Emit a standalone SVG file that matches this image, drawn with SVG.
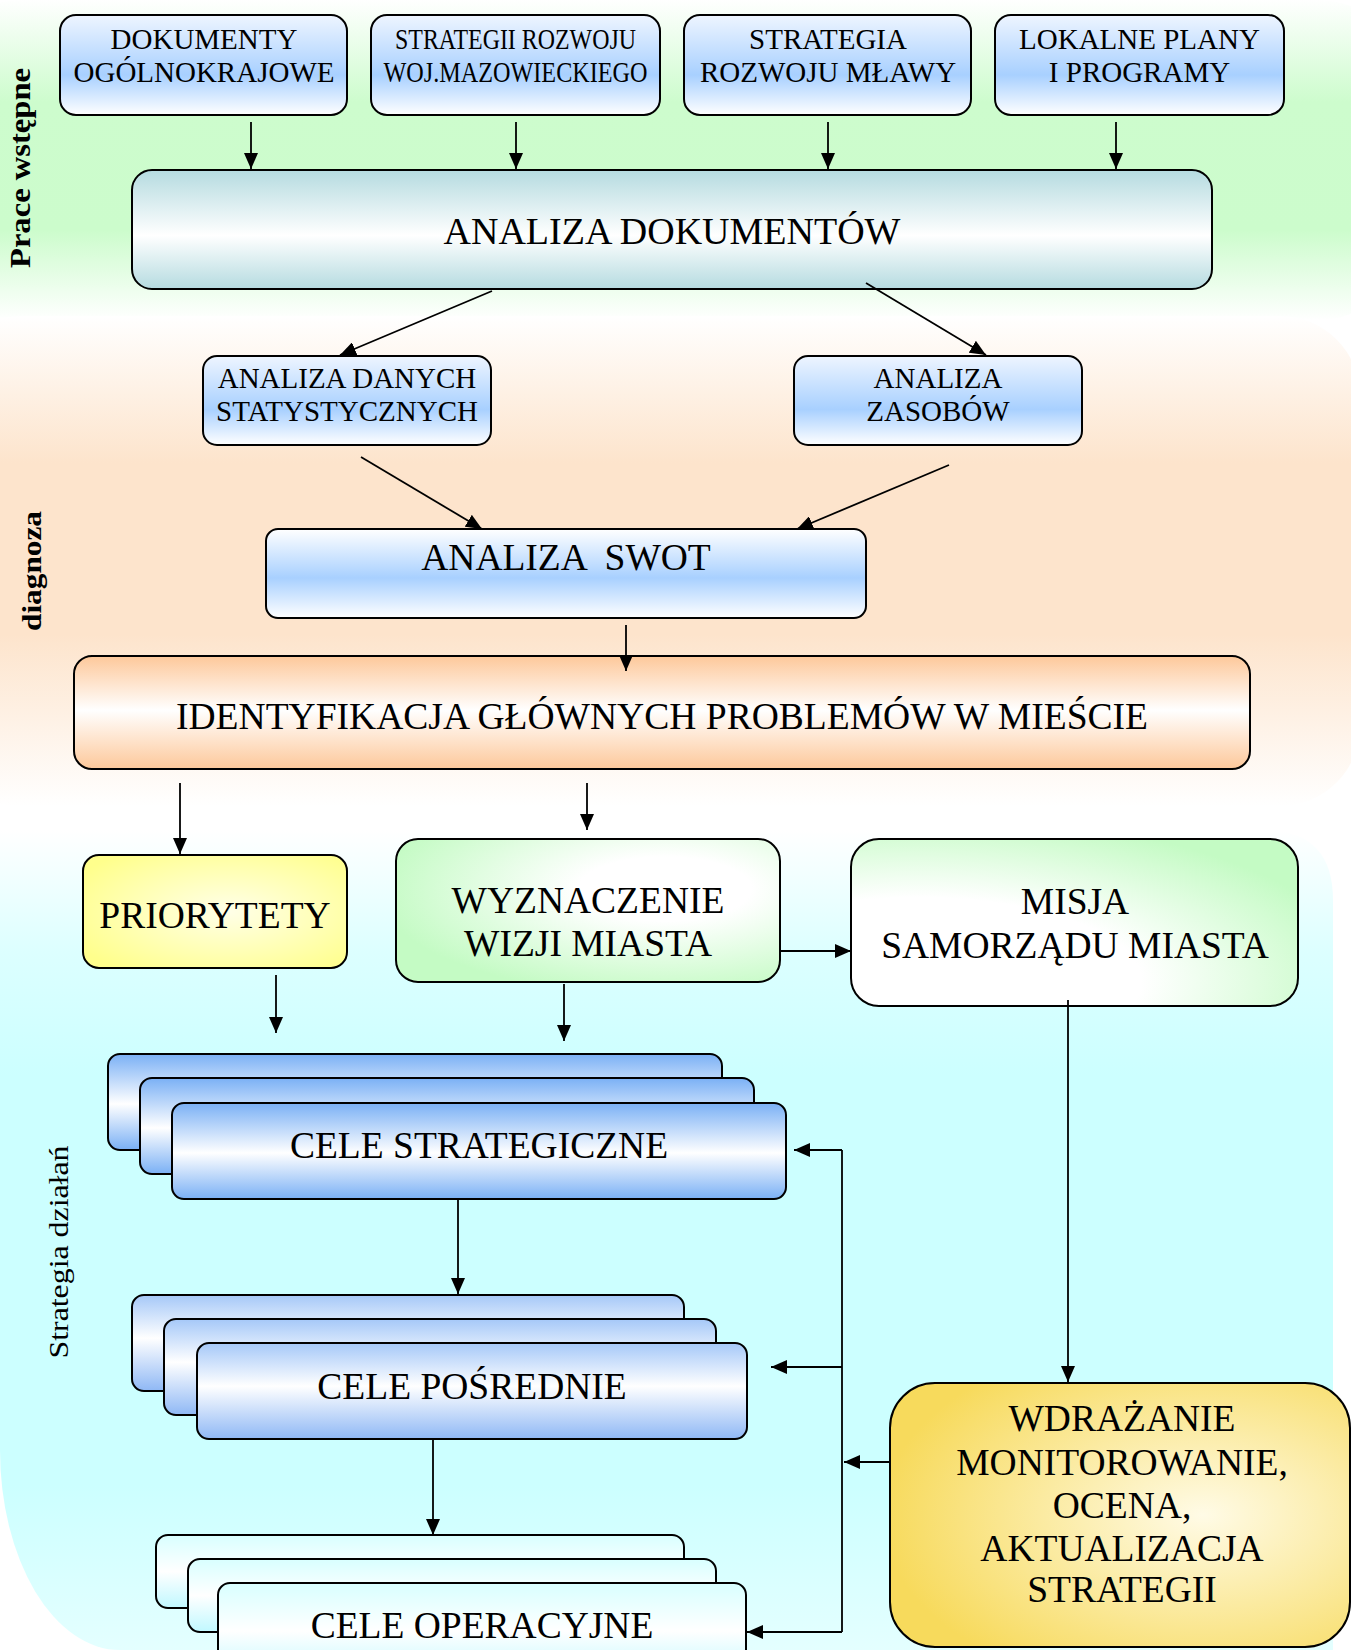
<svg xmlns="http://www.w3.org/2000/svg" width="1351" height="1650" viewBox="0 0 1351 1650">
<style>
.bx{stroke:#000;stroke-width:2}
.t{font-family:"Liberation Serif","Times New Roman",serif;fill:#000;text-anchor:middle}
.s29{font-size:29px}
.s37{font-size:37.5px}
.side{font-weight:bold}
.cn{stroke:#000;stroke-width:1.8;fill:none}
.ar{marker-end:url(#ah)}
</style>
<defs>
<marker id="ah" markerUnits="userSpaceOnUse" markerWidth="16" markerHeight="14" refX="16" refY="7" orient="auto"><path d="M0,0 L16,7 L0,14 Z" fill="#000"/></marker>
<linearGradient id="bgG" x1="0" y1="0" x2="0" y2="1"><stop offset="0" stop-color="#ffffff"/><stop offset="0.32" stop-color="#cdfccd"/><stop offset="0.72" stop-color="#ccfccc"/><stop offset="1" stop-color="#ffffff"/></linearGradient>
<linearGradient id="bgO" x1="0" y1="0" x2="0" y2="1"><stop offset="0" stop-color="#ffffff"/><stop offset="0.3" stop-color="#fde4cc"/><stop offset="0.65" stop-color="#fde4cc"/><stop offset="1" stop-color="#ffffff"/></linearGradient>
<linearGradient id="bgC" x1="0" y1="0" x2="0" y2="1"><stop offset="0" stop-color="#ffffff"/><stop offset="0.15" stop-color="#dcffff"/><stop offset="0.3" stop-color="#ccffff"/><stop offset="0.8" stop-color="#ccffff"/><stop offset="1" stop-color="#e4ffff"/></linearGradient>
<linearGradient id="gTop" x1="0" y1="0" x2="0" y2="1"><stop offset="0" stop-color="#eef5ff"/><stop offset="0.6" stop-color="#a8d0ff"/><stop offset="1" stop-color="#ffffff"/></linearGradient>
<linearGradient id="gDoc" x1="0" y1="0" x2="0" y2="1"><stop offset="0" stop-color="#b5dbe0"/><stop offset="0.55" stop-color="#ffffff"/><stop offset="1" stop-color="#b5dbe0"/></linearGradient>
<linearGradient id="gSwot" x1="0" y1="0" x2="0" y2="1"><stop offset="0" stop-color="#ffffff"/><stop offset="0.55" stop-color="#a8d0ff"/><stop offset="1" stop-color="#ffffff"/></linearGradient>
<linearGradient id="gIdent" x1="0" y1="0" x2="0" y2="1"><stop offset="0" stop-color="#fdc89a"/><stop offset="0.48" stop-color="#ffffff"/><stop offset="1" stop-color="#fdc89a"/></linearGradient>
<radialGradient id="gPrio" cx="0.55" cy="0.5" r="0.65"><stop offset="0" stop-color="#ffffe8"/><stop offset="1" stop-color="#ffff8c"/></radialGradient>
<radialGradient id="gWiz" cx="0.7" cy="0.35" r="0.75"><stop offset="0" stop-color="#ffffff"/><stop offset="0.3" stop-color="#ffffff"/><stop offset="1" stop-color="#c4fbc4"/></radialGradient>
<radialGradient id="gMis" cx="0.15" cy="0.85" r="1.0"><stop offset="0" stop-color="#ffffff"/><stop offset="0.5" stop-color="#ffffff"/><stop offset="1" stop-color="#c4fbc4"/></radialGradient>
<linearGradient id="gStr" x1="0" y1="0" x2="0" y2="1"><stop offset="0" stop-color="#7ab0f5"/><stop offset="0.52" stop-color="#ffffff"/><stop offset="1" stop-color="#7ab0f5"/></linearGradient>
<linearGradient id="gPos" x1="0" y1="0" x2="0" y2="1"><stop offset="0" stop-color="#a5c8f8"/><stop offset="0.45" stop-color="#ffffff"/><stop offset="1" stop-color="#8fb8f5"/></linearGradient>
<linearGradient id="gOp" x1="0" y1="0" x2="0" y2="1"><stop offset="0" stop-color="#d8ffff"/><stop offset="0.5" stop-color="#ffffff"/><stop offset="1" stop-color="#c0f8ff"/></linearGradient>
<radialGradient id="gWdr" cx="0.68" cy="0.5" r="0.7"><stop offset="0" stop-color="#fffbe6"/><stop offset="1" stop-color="#f7da5c"/></radialGradient>
</defs>

<g id="background">
<rect x="-60" y="0" width="1460" height="320" rx="80" fill="url(#bgG)"/>
<rect x="-60" y="316" width="1420" height="490" rx="80" fill="url(#bgO)"/>
<path d="M0,830 L1263,830 Q1333,830 1333,900 L1333,1650 L120,1650 A120 200 0 0 1 0,1450 Z" fill="url(#bgC)"/>
</g>

<g id="labels">
<text class="t side" style="font-size:29px" transform="translate(30,168) rotate(-90)" textLength="200" lengthAdjust="spacingAndGlyphs">Prace wstępne</text>
<text class="t side" style="font-size:28px" transform="translate(41,571) rotate(-90)" textLength="120" lengthAdjust="spacingAndGlyphs">diagnoza</text>
<text class="t" style="font-size:27px" transform="translate(68,1252) rotate(-90)" textLength="213" lengthAdjust="spacingAndGlyphs">Strategia działań</text>
</g>

<g id="n-dokumenty">
<rect class="bx" x="60" y="15" width="287" height="100" rx="16" fill="url(#gTop)"/>
<text class="t s29" x="204" y="48.5">DOKUMENTY</text>
<text class="t s29" x="204" y="82">OGÓLNOKRAJOWE</text>
</g>
<g id="n-strategii">
<rect class="bx" x="371" y="15" width="289" height="100" rx="16" fill="url(#gTop)"/>
<text class="t s29" x="515.5" y="48.5" textLength="241" lengthAdjust="spacingAndGlyphs">STRATEGII ROZWOJU</text>
<text class="t s29" x="515.5" y="82" textLength="264" lengthAdjust="spacingAndGlyphs">WOJ.MAZOWIECKIEGO</text>
</g>
<g id="n-strategia-mlawy">
<rect class="bx" x="684" y="15" width="287" height="100" rx="16" fill="url(#gTop)"/>
<text class="t s29" x="828" y="48.5">STRATEGIA</text>
<text class="t s29" x="828" y="82">ROZWOJU MŁAWY</text>
</g>
<g id="n-lokalne">
<rect class="bx" x="995" y="15" width="289" height="100" rx="16" fill="url(#gTop)"/>
<text class="t s29" x="1139.5" y="48.5">LOKALNE PLANY</text>
<text class="t s29" x="1139.5" y="82">I PROGRAMY</text>
</g>
<g id="n-analiza-dok">
<rect class="bx" x="132" y="170" width="1080" height="119" rx="20" fill="url(#gDoc)"/>
<text class="t" style="font-size:38px" x="672" y="244">ANALIZA DOKUMENTÓW</text>
</g>
<g id="n-analiza-danych">
<rect class="bx" x="203" y="356" width="288" height="89" rx="14" fill="url(#gTop)"/>
<text class="t s29" x="347" y="388">ANALIZA DANYCH</text>
<text class="t s29" x="347" y="421">STATYSTYCZNYCH</text>
</g>
<g id="n-analiza-zasobow">
<rect class="bx" x="794" y="356" width="288" height="89" rx="14" fill="url(#gTop)"/>
<text class="t s29" x="938" y="388">ANALIZA</text>
<text class="t s29" x="938" y="421">ZASOBÓW</text>
</g>
<g id="n-swot">
<rect class="bx" x="266" y="529" width="600" height="89" rx="12" fill="url(#gSwot)"/>
<text class="t s37" x="566" y="570" xml:space="preserve">ANALIZA  SWOT</text>
</g>
<g id="n-identyfikacja">
<rect class="bx" x="74" y="656" width="1176" height="113" rx="18" fill="url(#gIdent)"/>
<text class="t s37" x="662" y="729" textLength="972" lengthAdjust="spacingAndGlyphs">IDENTYFIKACJA GŁÓWNYCH PROBLEMÓW W MIEŚCIE</text>
</g>
<g id="n-priorytety">
<rect class="bx" x="83" y="855" width="264" height="113" rx="16" fill="url(#gPrio)"/>
<text class="t s37" x="215" y="928">PRIORYTETY</text>
</g>
<g id="n-wizja">
<rect class="bx" x="396" y="839" width="384" height="143" rx="22" fill="url(#gWiz)"/>
<text class="t s37" x="588" y="913">WYZNACZENIE</text>
<text class="t s37" x="588" y="956">WIZJI MIASTA</text>
</g>
<g id="n-misja">
<rect class="bx" x="851" y="839" width="447" height="167" rx="28" fill="url(#gMis)"/>
<text class="t s37" x="1075" y="914">MISJA</text>
<text class="t s37" x="1075" y="958">SAMORZĄDU MIASTA</text>
</g>
<g id="n-cele-strategiczne">
<rect class="bx" x="108" y="1054" width="614" height="96" rx="12" fill="url(#gStr)"/>
<rect class="bx" x="140" y="1078" width="614" height="96" rx="12" fill="url(#gStr)"/>
<rect class="bx" x="172" y="1103" width="614" height="96" rx="12" fill="url(#gStr)"/>
<text class="t s37" x="479" y="1158">CELE STRATEGICZNE</text>
</g>
<g id="n-cele-posrednie">
<rect class="bx" x="132" y="1295" width="552" height="96" rx="12" fill="url(#gPos)"/>
<rect class="bx" x="164" y="1319" width="552" height="96" rx="12" fill="url(#gPos)"/>
<rect class="bx" x="197" y="1343" width="550" height="96" rx="12" fill="url(#gPos)"/>
<text class="t s37" x="472" y="1399">CELE POŚREDNIE</text>
</g>
<g id="n-cele-operacyjne">
<rect class="bx" x="156" y="1535" width="528" height="73" rx="12" fill="url(#gOp)"/>
<rect class="bx" x="188" y="1559" width="528" height="73" rx="12" fill="url(#gOp)"/>
<rect class="bx" x="218" y="1583" width="528" height="96" rx="12" fill="url(#gOp)"/>
<text class="t s37" x="482" y="1638">CELE OPERACYJNE</text>
</g>
<g id="n-wdrazanie">
<rect class="bx" x="890" y="1383" width="460" height="264" rx="45" fill="url(#gWdr)"/>
<text class="t s37" x="1122" y="1431">WDRAŻANIE</text>
<text class="t s37" x="1122" y="1475">MONITOROWANIE,</text>
<text class="t s37" x="1122" y="1518">OCENA,</text>
<text class="t s37" x="1122" y="1561">AKTUALIZACJA</text>
<text class="t s37" x="1122" y="1602">STRATEGII</text>
</g>

<g id="connectors">
<path class="cn ar" d="M251,122 V169"/>
<path class="cn ar" d="M516,122 V169"/>
<path class="cn ar" d="M828,122 V169"/>
<path class="cn ar" d="M1116,122 V169"/>
<path class="cn ar" d="M492,291 L340,355"/>
<path class="cn ar" d="M866,283 L986,355"/>
<path class="cn ar" d="M361,457 L482,529"/>
<path class="cn ar" d="M949,465 L797,529"/>
<path class="cn ar" d="M626,625 V671"/>
<path class="cn ar" d="M180,783 V854"/>
<path class="cn ar" d="M587,783 V830"/>
<path class="cn ar" d="M780,951 H851"/>
<path class="cn ar" d="M276,975 V1033"/>
<path class="cn ar" d="M564,984 V1041"/>
<path class="cn ar" d="M1068,1000 V1382"/>
<path class="cn ar" d="M458,1199 V1294"/>
<path class="cn ar" d="M433,1439 V1535"/>
<path class="cn" d="M842,1150 V1632"/>
<path class="cn ar" d="M890,1462 H844"/>
<path class="cn ar" d="M842,1150 H794"/>
<path class="cn ar" d="M842,1367 H771"/>
<path class="cn ar" d="M842,1632 H747"/>
</g>
</svg>
